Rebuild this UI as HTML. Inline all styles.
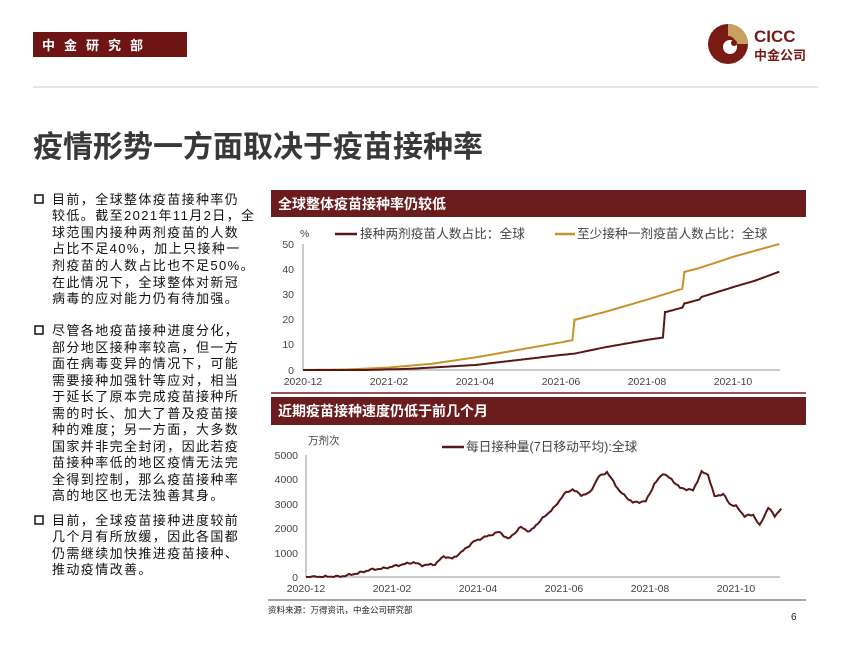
<!DOCTYPE html>
<html><head><meta charset="utf-8">
<style>
body{margin:0;background:#fff;}
svg{display:block;font-family:"Liberation Sans","Noto Sans CJK SC",sans-serif;}
.t{font-size:13px;letter-spacing:1.4px;fill:#111;}
.ax{font-size:10.5px;fill:#444;}
</style></head><body>
<svg id="s" width="850" height="656" viewBox="0 0 850 656" xmlns="http://www.w3.org/2000/svg">
<rect width="850" height="656" fill="#fff"/>
<rect x="33" y="32" width="154" height="25" fill="#6e1414"/>
<text x="42" y="50" font-size="13" font-weight="bold" fill="#fff" letter-spacing="9">中金研究部</text>
<circle cx="728" cy="44" r="20" fill="#7a1a14"/>
<path d="M728 24 A20 20 0 0 1 748 44 L736 44 A8 8 0 0 0 728 36 Z" fill="#c8a060"/>
<circle cx="730" cy="47" r="7" fill="#fff"/>
<circle cx="734" cy="43" r="3" fill="#7a1a14"/>
<text x="754" y="42" font-size="17" font-weight="bold" fill="#7a1a14">CICC</text>
<text x="754" y="60" font-size="13" font-weight="bold" fill="#7a1a14">中金公司</text>
<line x1="33" y1="87" x2="818" y2="87" stroke="#ddd" stroke-width="1.5"/>
<text x="33" y="157" font-size="30" fill="#383838" font-weight="bold">疫情形势一方面取决于疫苗接种率</text>

<g class="t">
<rect x="35" y="195" width="8" height="8" fill="none" stroke="#111" stroke-width="1.5"/>
<text x="52" y="204">目前，全球整体疫苗接种率仍</text>
<text x="52" y="220">较低。截至2021年11月2日，全</text>
<text x="52" y="237">球范围内接种两剂疫苗的人数</text>
<text x="52" y="253">占比不足40%，加上只接种一</text>
<text x="52" y="270">剂疫苗的人数占比也不足50%。</text>
<text x="52" y="287">在此情况下，全球整体对新冠</text>
<text x="52" y="303">病毒的应对能力仍有待加强。</text>
<rect x="35" y="326" width="8" height="8" fill="none" stroke="#111" stroke-width="1.5"/>
<text x="52" y="335">尽管各地疫苗接种进度分化，</text>
<text x="52" y="352">部分地区接种率较高，但一方</text>
<text x="52" y="368">面在病毒变异的情况下，可能</text>
<text x="52" y="385">需要接种加强针等应对，相当</text>
<text x="52" y="401">于延长了原本完成疫苗接种所</text>
<text x="52" y="418">需的时长、加大了普及疫苗接</text>
<text x="52" y="434">种的难度；另一方面，大多数</text>
<text x="52" y="451">国家并非完全封闭，因此若疫</text>
<text x="52" y="467">苗接种率低的地区疫情无法完</text>
<text x="52" y="484">全得到控制，那么疫苗接种率</text>
<text x="52" y="500">高的地区也无法独善其身。</text>
<rect x="35" y="516" width="8" height="8" fill="none" stroke="#111" stroke-width="1.5"/>
<text x="52" y="525">目前，全球疫苗接种进度较前</text>
<text x="52" y="541">几个月有所放缓，因此各国都</text>
<text x="52" y="558">仍需继续加快推进疫苗接种、</text>
<text x="52" y="574">推动疫情改善。</text>
</g>

<rect x="271" y="190" width="535" height="27" fill="#6b1d1d"/>
<text x="278" y="209" font-size="14" font-weight="bold" fill="#fff">全球整体疫苗接种率仍较低</text>
<text x="300" y="237" class="ax">%</text>
<line x1="335" y1="234" x2="357" y2="234" stroke="#5a1515" stroke-width="2.5"/>
<text x="360" y="238" font-size="12.7" fill="#444">接种两剂疫苗人数占比：全球</text>
<line x1="555" y1="234" x2="575" y2="234" stroke="#c8922a" stroke-width="2.5"/>
<text x="577" y="238" font-size="12.7" fill="#444">至少接种一剂疫苗人数占比：全球</text>
<g class="ax" text-anchor="end">
<text x="294" y="248">50</text><text x="294" y="273">40</text><text x="294" y="298">30</text><text x="294" y="323">20</text><text x="294" y="348">10</text><text x="294" y="374">0</text>
</g>
<line x1="303" y1="244" x2="303" y2="370" stroke="#999"/>
<line x1="303" y1="370" x2="780" y2="370" stroke="#999"/>
<g class="ax" text-anchor="middle">
<text x="303" y="385">2020-12</text><text x="389" y="385">2021-02</text><text x="475" y="385">2021-04</text><text x="561" y="385">2021-06</text><text x="647" y="385">2021-08</text><text x="733" y="385">2021-10</text>
</g>
<polyline id="g1" fill="none" stroke="#c8922a" stroke-width="2"/>
<polyline id="d1" fill="none" stroke="#5a1515" stroke-width="2"/>
<line x1="271" y1="393" x2="806" y2="393" stroke="#6b1d1d" stroke-width="1.5"/>

<rect x="271" y="397" width="535" height="28" fill="#6b1d1d"/>
<text x="278" y="416" font-size="14" font-weight="bold" fill="#fff">近期疫苗接种速度仍低于前几个月</text>
<text x="308" y="444" class="ax">万剂次</text>
<line x1="442" y1="447" x2="464" y2="447" stroke="#5a1515" stroke-width="2.5"/>
<text x="466" y="451" font-size="12.7" fill="#444">每日接种量(7日移动平均):全球</text>
<g class="ax" text-anchor="end">
<text x="298" y="459">5000</text><text x="298" y="483">4000</text><text x="298" y="508">3000</text><text x="298" y="532">2000</text><text x="298" y="557">1000</text><text x="298" y="581">0</text>
</g>
<line x1="306" y1="455" x2="306" y2="577" stroke="#999"/>
<line x1="306" y1="577" x2="780" y2="577" stroke="#999"/>
<g class="ax" text-anchor="middle">
<text x="306" y="592">2020-12</text><text x="392" y="592">2021-02</text><text x="478" y="592">2021-04</text><text x="564" y="592">2021-06</text><text x="650" y="592">2021-08</text><text x="736" y="592">2021-10</text>
</g>
<polyline id="d2" fill="none" stroke="#5a1515" stroke-width="2"/>
<line x1="268" y1="600" x2="806" y2="600" stroke="#888" stroke-width="1.5"/>
<text x="268" y="613" font-size="8.5" fill="#222">资料来源：万得资讯，中金公司研究部</text>
<text x="791" y="620" font-size="10" fill="#222">6</text>
</svg>
<script>
function interp(pts,step){var o=[];for(var i=0;i<pts.length-1;i++){var a=pts[i],b=pts[i+1];var n=Math.max(1,Math.round((b[0]-a[0])/step));for(var k=0;k<n;k++){var f=k/n;o.push([a[0]+(b[0]-a[0])*f,a[1]+(b[1]-a[1])*(b[0]-a[0]<0.05?1:f)]);}}o.push(pts[pts.length-1]);return o;}
function put(id,pts,fx,fy,noise){var s=interp(pts,0.05).map(function(p,i){var v=p[1]+(noise?(Math.sin(i*2.3)*0.5+Math.sin(i*5.1)*0.5)*noise:0);return fx(p[0]).toFixed(1)+","+fy(v).toFixed(1);}).join(" ");document.getElementById(id).setAttribute("points",s);}
var f1x=function(t){return 303+t*43.1},f1y=function(v){return 370-v*2.52};
put("d1",[[0,0],[1.5,0],[2.5,0.5],[3,1],[4,2],[5,4],[6,6],[6.3,6.5],[7,9],[8,12],[8.4,13],[8.42,23],[8.85,25],[8.88,26.5],[9.2,28],[9.25,29],[10,33],[10.5,35.5],[11.05,39]],f1x,f1y,0);
put("g1",[[0,0],[1,0.2],[2,1],[3,2.5],[4,5],[5,8],[6,11],[6.3,12],[6.32,20],[7,23],[8,28],[8.85,32.5],[8.87,39],[9.2,40.5],[10,45],[11.05,50]],f1x,f1y,0);
var f2x=function(t){return 306+t*43},f2y=function(v){return 577-Math.max(0,v)*0.0244};
put("d2",[[0,0],[0.8,20],[1.2,150],[1.5,300],[1.8,350],[2.2,500],[2.5,600],[2.7,480],[3.0,520],[3.2,850],[3.4,750],[3.6,1000],[3.9,1450],[4.1,1600],[4.5,1850],[4.7,1550],[5.0,2050],[5.2,1850],[5.5,2400],[5.8,2900],[6.0,3400],[6.2,3600],[6.4,3350],[6.6,3450],[6.8,4100],[7.0,4300],[7.3,3500],[7.6,3050],[7.9,3100],[8.1,3800],[8.3,4250],[8.5,4000],[8.7,3650],[9.0,3550],[9.2,4300],[9.35,4200],[9.5,3300],[9.7,3400],[9.85,3000],[10.0,2900],[10.2,2500],[10.4,2550],[10.55,2100],[10.75,2850],[10.9,2500],[11.05,2800]],f2x,f2y,45);
</script>
</body></html>
